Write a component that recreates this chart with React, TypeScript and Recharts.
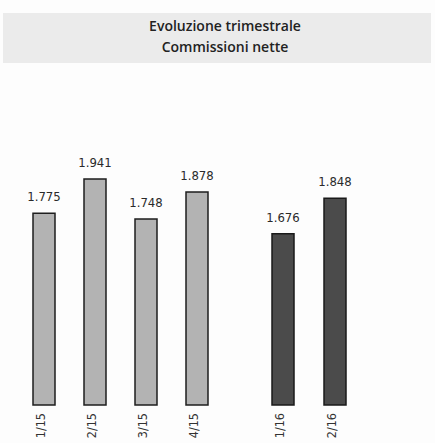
import { Bar, BarChart, LabelList, XAxis, YAxis } from "recharts";

const trimestri2015 = ["1/15", "2/15", "3/15", "4/15"];
const commissioni2015 = [1775, 1941, 1748, 1878];
const trimestri2016 = ["1/16", "2/16"];
const commissioni2016 = [1676, 1848];

const dati2015 = trimestri2015.map((t, i) => ({ trimestre: t, valore: commissioni2015[i] }));
const dati2016 = trimestri2016.map((t, i) => ({ trimestre: t, valore: commissioni2016[i] }));

const FONT = "'DejaVu Sans Condensed', 'DejaVu Sans', sans-serif";
const formatta = (v: number) => v.toLocaleString("it-IT");

function TickVerticale({ x, y, payload }: any) {
  return (
    <text
      x={0}
      y={0}
      transform={`translate(${x - 3},${y}) rotate(-90)`}
      textAnchor="end"
      dy="0.35em"
      fontSize={12.5}
      fontFamily={FONT}
      fill="#333"
    >
      {payload.value}
    </text>
  );
}

function Pannello({
  dati,
  larghezza,
  colore,
  bordo,
}: {
  dati: { trimestre: string; valore: number }[];
  larghezza: number;
  colore: string;
  bordo: string;
}) {
  return (
    <BarChart
      width={larghezza}
      height={443}
      data={dati}
      margin={{ top: 146, right: 0, left: 0, bottom: 0 }}
    >
      <XAxis
        dataKey="trimestre"
        height={38}
        axisLine={false}
        tickLine={false}
        interval={0}
        tick={<TickVerticale />}
      />
      <YAxis hide domain={[850, 2100]} />
      <Bar
        dataKey="valore"
        fill={colore}
        stroke={bordo}
        strokeWidth={1.5}
        barSize={22}
        isAnimationActive={false}
      >
        <LabelList
          dataKey="valore"
          position="top"
          offset={12}
          formatter={formatta}
          style={{ fontSize: 13, fontFamily: FONT, fill: "#2a2a2a" }}
        />
      </Bar>
    </BarChart>
  );
}

export default function App() {
  return (
    <div
      style={{
        position: "absolute",
        top: 0,
        left: 0,
        width: 435,
        height: 443,
        background: "#fdfdfd",
        overflow: "hidden",
      }}
    >
      <div
        style={{
          position: "absolute",
          top: 13,
          left: 3,
          width: 428,
          height: 50,
          background: "#ebebeb",
        }}
      />
      <div
        style={{
          position: "absolute",
          top: 15,
          left: 0,
          width: 450,
          textAlign: "center",
          fontFamily: "'Open Sans', sans-serif",
          fontWeight: 600,
          fontSize: 14,
          lineHeight: "21px",
          color: "#222",
        }}
      >
        Evoluzione trimestrale
        <br />
        Commissioni nette
      </div>
      <div style={{ position: "absolute", top: 0, left: 18 }}>
        <Pannello dati={dati2015} larghezza={204} colore="#b3b3b3" bordo="#1e1e1e" />
      </div>
      <div style={{ position: "absolute", top: 0, left: 257 }}>
        <Pannello dati={dati2016} larghezza={104} colore="#4b4b4b" bordo="#1a1a1a" />
      </div>
    </div>
  );
}
